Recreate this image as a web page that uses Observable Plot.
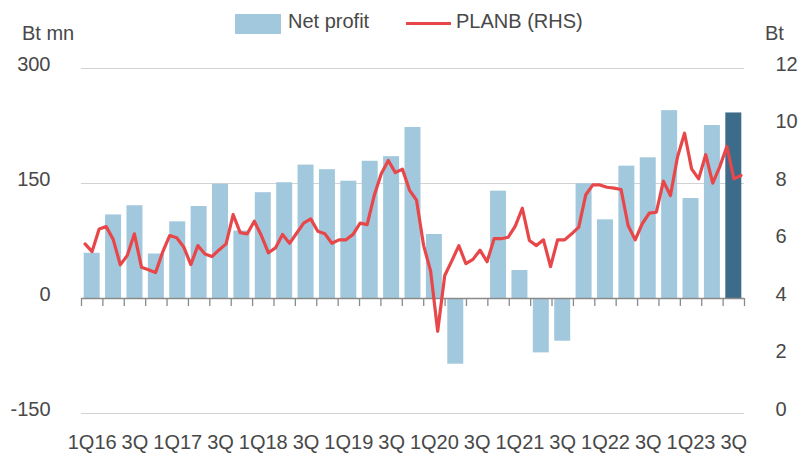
<!DOCTYPE html>
<html>
<head>
<meta charset="utf-8">
<script src="https://cdn.jsdelivr.net/npm/d3@7"></script>
<script src="https://cdn.jsdelivr.net/npm/@observablehq/plot@0.6"></script>
<style>
  html, body { margin: 0; padding: 0; background: #fff; }
  #wrap { position: relative; width: 802px; height: 453px; font-family: "Liberation Sans", Arial, sans-serif; }
  .lbl { position: absolute; font-size: 20px; line-height: 20px; color: #484848; white-space: nowrap; }
  .sw { position: absolute; }
</style>
</head>
<body>
<div id="wrap">
  <div id="chart"></div>
  <div class="lbl" style="left:22px; top:23px;">Bt mn</div>
  <div class="lbl" style="left:765px; top:23px;">Bt</div>
  <div class="sw" style="left:235px; top:14px; width:46px; height:20px; background:#a2c8dd;"></div>
  <div class="lbl" style="left:288px; top:11px;">Net profit</div>
  <div class="sw" style="left:406px; top:22px; width:45px; height:3px; background:#e8474a;"></div>
  <div class="lbl" style="left:456px; top:11px;">PLANB (RHS)</div>
</div>
<script>
// Quarters 1Q16 .. 3Q23
const quarters = ["1Q16","2Q16","3Q16","4Q16","1Q17","2Q17","3Q17","4Q17","1Q18","2Q18","3Q18","4Q18",
  "1Q19","2Q19","3Q19","4Q19","1Q20","2Q20","3Q20","4Q20","1Q21","2Q21","3Q21","4Q21",
  "1Q22","2Q22","3Q22","4Q22","1Q23","2Q23","3Q23"];
// Net profit, Bt mn (left axis)
const netProfit = [59,109,121,58,100,120,149,88,138,151,174,168,153,179,185,223,
  83.5,-85.7,0,140,36.5,-70.9,-55.7,149.6,102.6,172.6,183.5,245,130.4,225.6,242];
// PLANB share price, Bt (right axis), monthly Jan-16 .. Oct-23
const planb = [5.90,5.63,6.42,6.50,6.05,5.17,5.50,6.25,5.09,5.00,
  4.90,5.61,6.19,6.11,5.79,5.18,5.84,5.55,5.46,5.69,
  5.90,6.92,6.29,6.25,6.69,6.19,5.59,5.76,6.23,5.92,
  6.27,6.62,6.77,6.34,6.25,5.92,6.04,6.04,6.23,6.62,
  6.57,7.58,8.34,8.80,8.38,8.50,7.77,7.42,5.85,4.95,
  2.86,4.80,5.31,5.84,5.21,5.36,5.68,5.28,6.08,6.08,
  6.13,6.52,7.14,6.02,5.84,6.04,5.11,6.04,6.04,6.25,
  6.48,7.61,7.95,7.95,7.87,7.84,7.79,6.54,6.04,6.60,
  6.97,7.00,8.08,7.58,8.92,9.75,8.51,8.16,9.00,8.01,
  8.59,9.29,8.16,8.28];
// Axis tick labels
const xTickLabels = ["1Q16","3Q","1Q17","3Q","1Q18","3Q","1Q19","3Q","1Q20","3Q","1Q21","3Q","1Q22","3Q","1Q23","3Q"];
const leftTicks = [-150, 0, 150, 300];
const rightTicks = [0, 2, 4, 6, 8, 10, 12];
const gridValues = [300, 150, -150];

// Right axis (Bt) mapped onto left axis (Bt mn): 4 Bt <-> 0, 8 Bt <-> 150
const toLeft = v => (v - 4) * 37.5;
const fromLeft = d => d / 37.5 + 4;

const n = quarters.length;
const bars = quarters.map((q, i) => ({q, i, v: netProfit[i], last: i === n - 1}));
const line = planb.map((v, j) => ({x: (j + 0.5) * n / planb.length, v}));
const bounds = d3.range(n + 1);
const labelPos = xTickLabels.map((t, k) => k * 2 + 0.5);

const chart = Plot.plot({
  width: 802,
  height: 453,
  marginLeft: 81,
  marginRight: 58,
  marginTop: 68,
  marginBottom: 40,
  style: {fontFamily: "'Liberation Sans', Arial, sans-serif", fontSize: "20px", color: "#484848", background: "#fff"},
  x: {type: "linear", domain: [0, n], axis: null},
  y: {domain: [-150, 300], axis: null},
  marks: [
    Plot.ruleY(gridValues, {stroke: "#d2d2d2", strokeWidth: 1.2}),
    Plot.rectY(bars, {x1: d => d.i, x2: d => d.i + 1, y1: 0, y2: "v",
      fill: d => d.last ? "#3d6b8a" : "#a2c8dd", insetLeft: 2.7, insetRight: 2.7}),
    Plot.ruleY([0], {stroke: "#8a8a8a", strokeWidth: 1.5}),
    Plot.ruleX(bounds, {x: d => d, y1: 0, y2: -10.5, stroke: "#8a8a8a", strokeWidth: 1.3}),
    Plot.line(line, {x: "x", y: d => toLeft(d.v), stroke: "#e8474a", strokeWidth: 3.2, strokeLinejoin: "round"}),
    Plot.axisY({anchor: "left", ticks: leftTicks, tickFormat: d => String(d), tickSize: 0, tickPadding: 31, dy: -4, label: null}),
    Plot.axisY({anchor: "right", ticks: rightTicks.map(toLeft), tickFormat: d => String(Math.round(fromLeft(d))),
      tickSize: 0, tickPadding: 31, dy: -4, label: null}),
    Plot.axisX({anchor: "bottom", ticks: labelPos, tickFormat: d => xTickLabels[Math.round((d - 0.5) / 2)],
      tickSize: 0, tickPadding: 21, label: null})
  ]
});
document.getElementById("chart").appendChild(chart);
</script>
</body>
</html>
